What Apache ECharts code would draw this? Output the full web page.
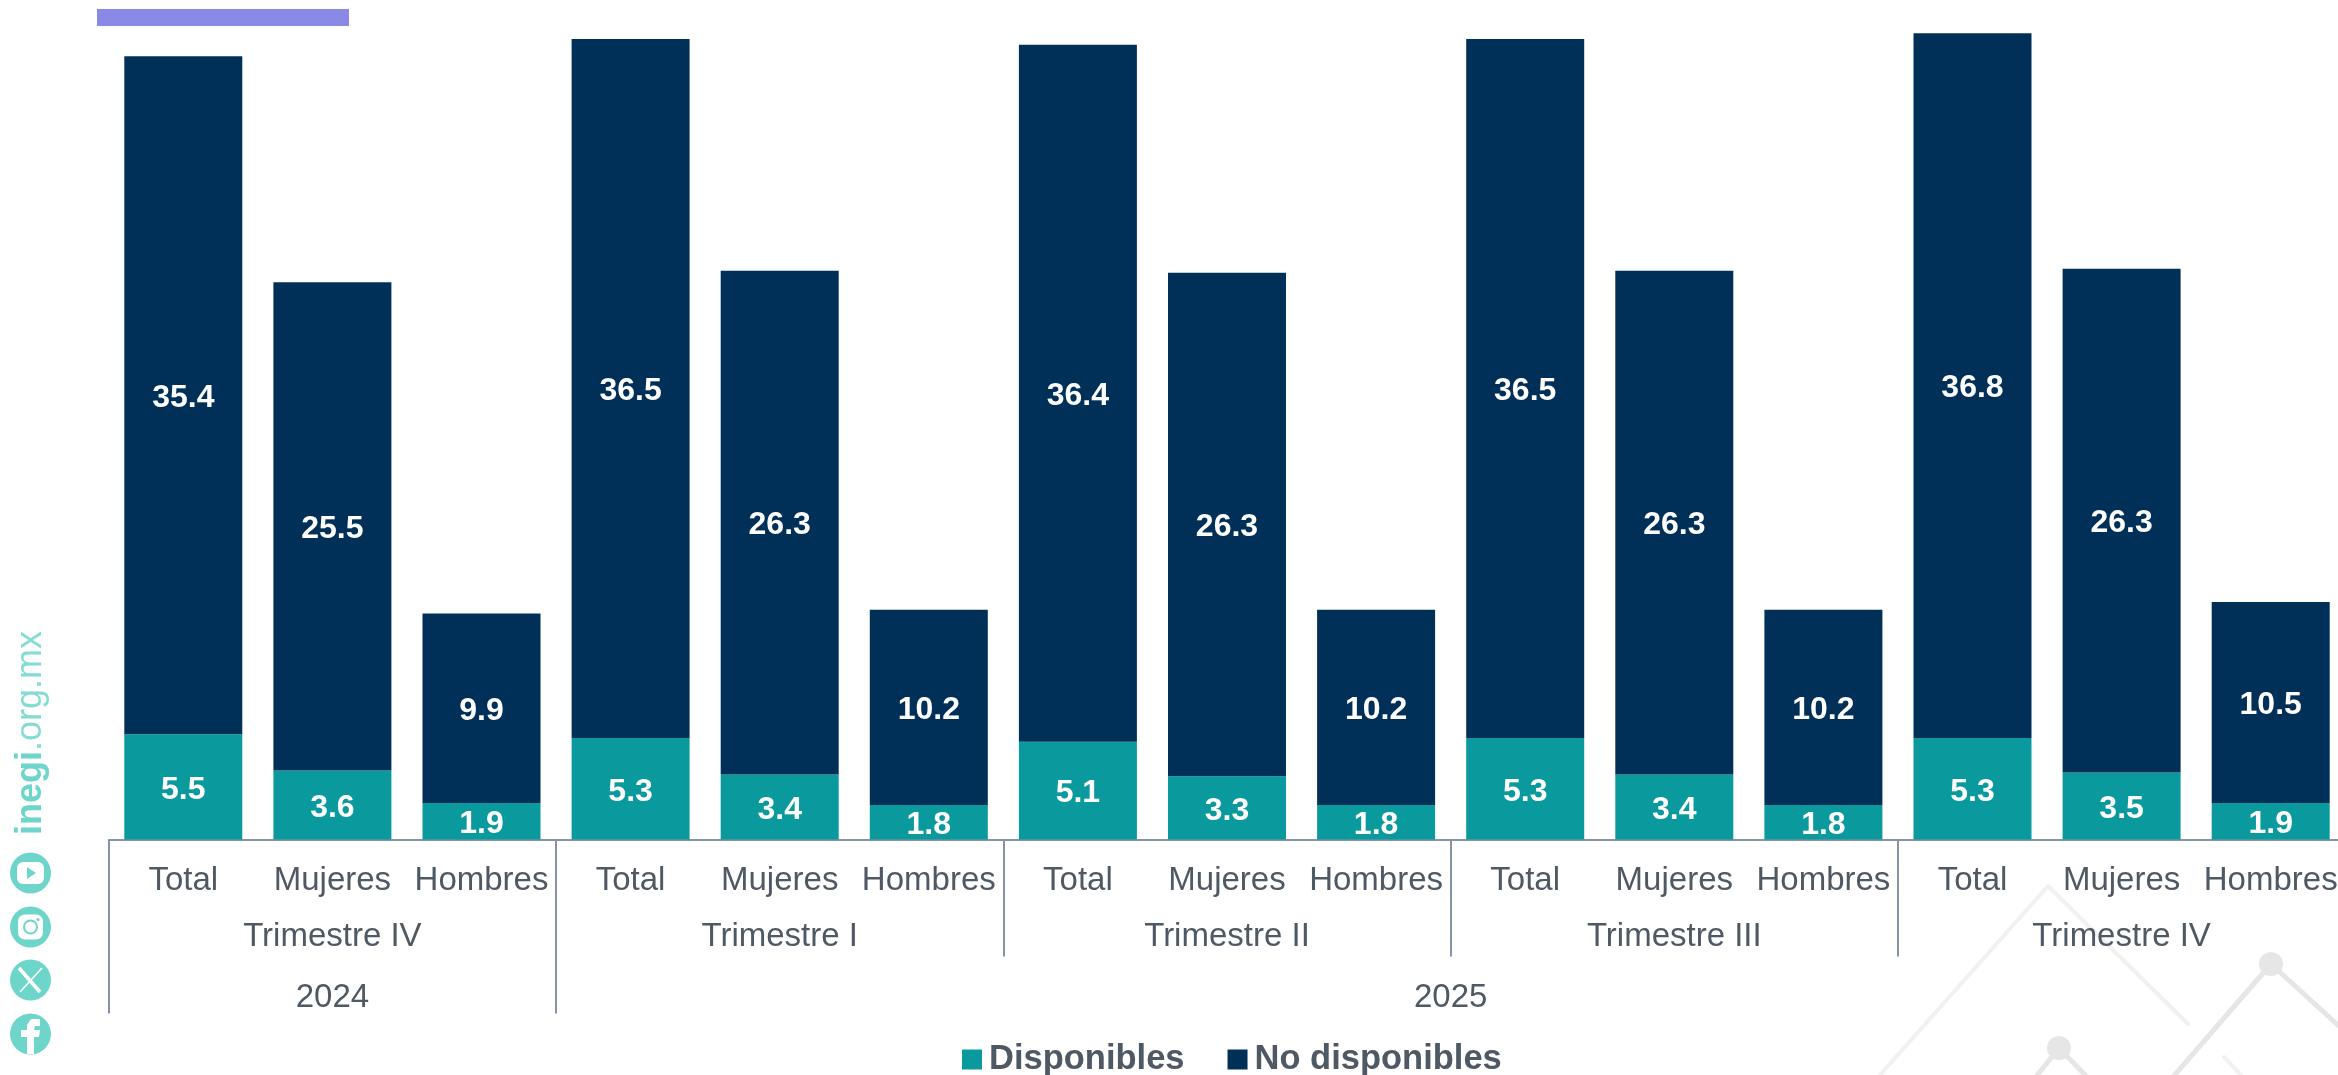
<!DOCTYPE html>
<html><head><meta charset="utf-8">
<style>html,body{margin:0;padding:0;background:#fff}#c{width:2338px;height:1075px}</style>
<script src="https://cdn.jsdelivr.net/npm/echarts@6/dist/echarts.min.js"></script>
</head><body><div id="c"></div>
<script>
const categories = ['Total','Mujeres','Hombres','Total','Mujeres','Hombres','Total','Mujeres','Hombres','Total','Mujeres','Hombres','Total','Mujeres','Hombres'];
const disponibles = [5.5,3.6,1.9,5.3,3.4,1.8,5.1,3.3,1.8,5.3,3.4,1.8,5.3,3.5,1.9];
const noDisponibles = [35.4,25.5,9.9,36.5,26.3,10.2,36.4,26.3,10.2,36.5,26.3,10.2,36.8,26.3,10.5];
const trimestres = ['Trimestre IV','Trimestre I','Trimestre II','Trimestre III','Trimestre IV'];
const anios = ['2024','2025'];
const trimestreCentros = [1.5,4.5,7.5,10.5,13.5];
const trimestreCortes = [3,6,9,12];
const anioCentros = [1.5,9];
const anioCortes = [0,3];

const FONT = '"Liberation Sans", Arial, sans-serif';
const TEXT = '#4f5964', LINE = '#8494a6', MINT = '#6dd5ca';

function line(x1,y1,x2,y2,stroke,w){return {type:'line',silent:true,z:0,shape:{x1,y1,x2,y2},style:{stroke,lineWidth:w,lineCap:'round'}};}
function dot(cx,cy,r,fill,z){return {type:'circle',silent:true,z:z||0,shape:{cx,cy,r},style:{fill}};}

const decor = [
  {type:'rect',silent:true,shape:{x:97,y:9,width:252,height:17},style:{fill:'#8a8ae6'}},
  line(1879,1076,2048,886,'#f1f1f1',4), line(2048,886,2188,1024,'#f1f1f1',4),
  line(2035,1078,2059,1048,'#e6e6e6',5), line(2059,1048,2088,1078,'#e6e6e6',5), dot(2059,1048,12,'#e6e6e6'),
  line(2172,1078,2271,964,'#e6e6e6',5), line(2271,964,2340,1027,'#e6e6e6',5), dot(2271,964,12,'#e6e6e6'),
  line(2224,1057,2244,1078,'#f1f1f1',4),
  {type:'text',silent:true,x:49,y:835,rotation:Math.PI/2,style:{text:'inegi',fill:MINT,font:'bold 36px '+FONT,textAlign:'left',textVerticalAlign:'bottom'}},
  {type:'text',silent:true,x:49,y:751,rotation:Math.PI/2,style:{text:'.org.mx',fill:MINT,font:'300 36px '+FONT,textAlign:'left',textVerticalAlign:'bottom',opacity:0.85}},
  dot(30.5,873,20.5,MINT,1), dot(30.5,927,20.5,MINT,1), dot(30.5,980,20.5,MINT,1), dot(30.5,1034,20.5,MINT,1),
  {type:'rect',silent:true,z:2,shape:{x:17,y:862,width:27,height:22,r:6},style:{fill:'#fff'}},
  {type:'polygon',silent:true,z:3,shape:{points:[[27,867],[27,879],[36,873]]},style:{fill:MINT}},
  {type:'rect',silent:true,z:2,shape:{x:18,y:914.5,width:25,height:25,r:7},style:{fill:'#fff'}},
  {type:'circle',silent:true,z:3,shape:{cx:30.5,cy:927,r:6.5},style:{fill:'#fff',stroke:MINT,lineWidth:2}},
  dot(38,919.5,1.6,MINT,3),
  {type:'line',silent:true,z:2,shape:{x1:19,y1:968,x2:40,y2:992},style:{stroke:'#fff',lineWidth:3.5}},
  {type:'line',silent:true,z:2,shape:{x1:42,y1:968,x2:20,y2:992},style:{stroke:'#fff',lineWidth:1.5}},
  {type:'polygon',silent:true,z:2,shape:{points:[[27,1054],[27,1037],[21,1037],[21,1030],[27,1030],[27,1025],[31,1019],[40,1019],[40,1026],[35,1026],[34,1030],[40,1030],[39,1037],[34,1037],[34,1054]]},style:{fill:'#fff'}}
];

const labelStyle = {show:true,position:'inside',offset:[0,3],color:'#fff',fontFamily:FONT,fontWeight:'bold',fontSize:32,formatter:p=>p.value.toFixed(1)};
function levelAxis(centros,textos,cortes,tick,margin){
  return {type:'value',min:0,max:15,position:'bottom',splitLine:{show:false},axisLine:{show:false},
    axisTick:{show:true,customValues:cortes,length:tick,lineStyle:{color:LINE,width:2}},
    axisLabel:{show:true,customValues:centros,margin:margin,color:TEXT,fontFamily:FONT,fontSize:33,showMinLabel:true,showMaxLabel:true,
      formatter:v=>textos[centros.indexOf(v)]}};
}
const chart = echarts.init(document.getElementById('c'),null,{renderer:'canvas'});
chart.setOption({
  animation:false,backgroundColor:'#fff',
  grid:{left:108.75,width:2236.5,top:18,height:821.5,containLabel:false,outerBoundsMode:'none'},
  legend:{left:957,top:1037,itemWidth:20,itemHeight:20,itemGap:43,icon:'rect',
    textStyle:{color:TEXT,fontFamily:FONT,fontWeight:'bold',fontSize:34.5,padding:[0,0,0,2]},
    data:['Disponibles','No disponibles']},
  xAxis:[
    {type:'category',data:categories,axisLine:{lineStyle:{color:LINE,width:2}},axisTick:{show:false},
      axisLabel:{interval:0,margin:25,color:TEXT,fontFamily:FONT,fontSize:33}},
    levelAxis(trimestreCentros,trimestres,trimestreCortes,117,81),
    levelAxis(anioCentros,anios,anioCortes,174,142)
  ],
  yAxis:{type:'value',min:0,max:42.9,show:false,splitLine:{show:false}},
  series:[
    {name:'Disponibles',type:'bar',stack:'t',data:disponibles,barWidth:118,itemStyle:{color:'#0a9a9e'},label:labelStyle},
    {name:'No disponibles',type:'bar',stack:'t',data:noDisponibles,barWidth:118,itemStyle:{color:'#003057'},label:labelStyle}
  ],
  graphic:decor
});
</script></body></html>
